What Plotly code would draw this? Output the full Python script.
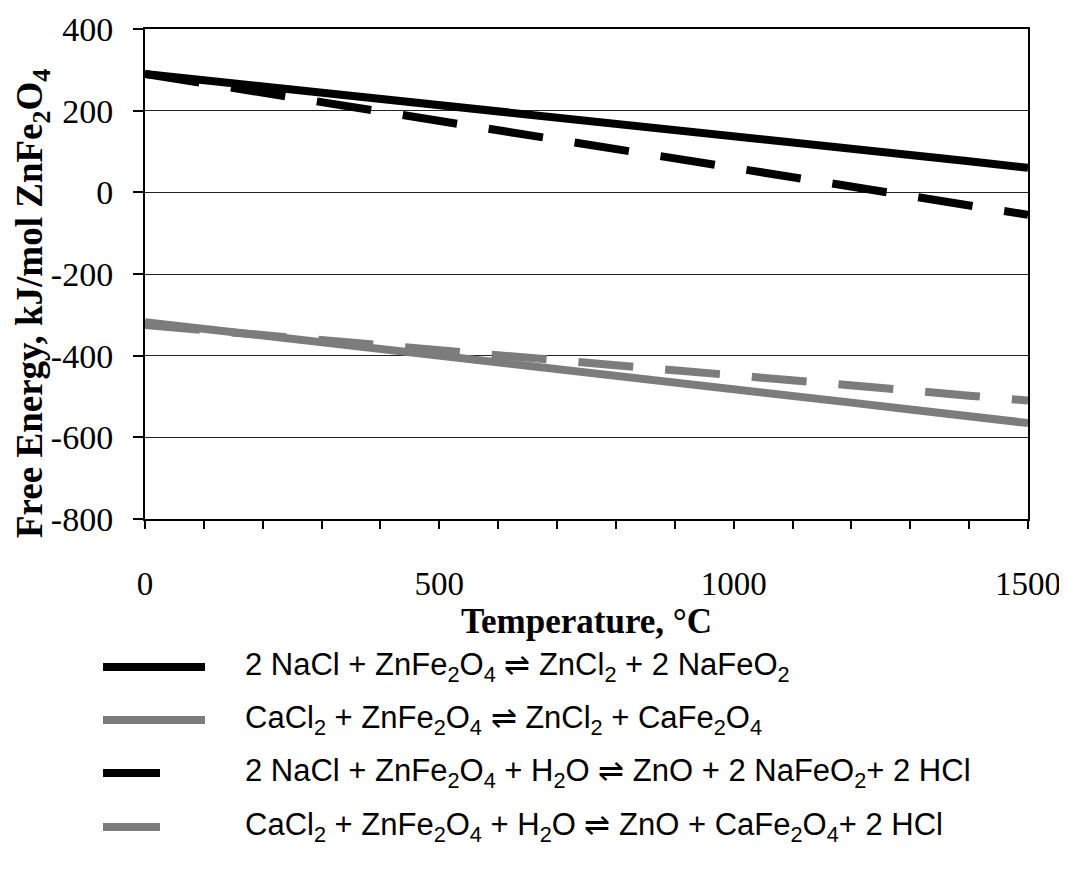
import plotly.graph_objects as go

temperature = [0, 100, 200, 300, 400, 500, 600, 700, 800, 900, 1000, 1100, 1200, 1300, 1400, 1500]
nacl_dry = [290, 275, 259, 244, 229, 213, 198, 183, 167, 152, 137, 122, 106, 91, 76, 60]
cacl2_dry = [-318, -334, -351, -367, -383, -400, -416, -433, -449, -466, -482, -499, -515, -532, -548, -565]
nacl_wet = [290, 267, 244, 221, 198, 175, 152, 129, 106, 83, 60, 37, 14, -9, -32, -55]
cacl2_wet = [-325, -337, -350, -362, -374, -387, -399, -411, -424, -436, -448, -461, -473, -485, -498, -510]

y_tickvals = [400, 200, 0, -200, -400, -600, -800]
y_ticktext = ["400", "200", "0", "-200", "-400", "-600", "-800"]
x_tickvals = [0, 500, 1000, 1500]

x_title = "<b>Temperature, °C</b>"
y_title = "<b>Free Energy, kJ/mol ZnFe<sub>2</sub>O<sub>4</sub></b>"

labels = [
    "2 NaCl + ZnFe<sub>2</sub>O<sub>4</sub> ⇌ ZnCl<sub>2</sub> + 2 NaFeO<sub>2</sub>",
    "CaCl<sub>2</sub> + ZnFe<sub>2</sub>O<sub>4</sub> ⇌ ZnCl<sub>2</sub> + CaFe<sub>2</sub>O<sub>4</sub>",
    "2 NaCl + ZnFe<sub>2</sub>O<sub>4</sub> + H<sub>2</sub>O ⇌ ZnO + 2 NaFeO<sub>2</sub>+ 2 HCl",
    "CaCl<sub>2</sub> + ZnFe<sub>2</sub>O<sub>4</sub> + H<sub>2</sub>O ⇌ ZnO + CaFe<sub>2</sub>O<sub>4</sub>+ 2 HCl",
]

BLACK = "#000000"
GRAY = "#7c7c7c"
DASH = "55px,32px"

series = [
    (nacl_dry, BLACK, "solid"),
    (cacl2_dry, GRAY, "solid"),
    (nacl_wet, BLACK, DASH),
    (cacl2_wet, GRAY, DASH),
]

fig = go.Figure()
for (vals, col, dash), lab in zip(series, labels):
    fig.add_trace(go.Scatter(x=temperature, y=vals, mode="lines", name=lab,
                             line=dict(color=col, width=8, dash=dash),
                             showlegend=False))

# page offset of the plot div (body margin)
OFF = 8
# plot area in page pixels
PL, PR, PT, PB = 145, 1028, 29, 519
W, H = 1059, 865
margin = dict(l=PL - OFF, r=W - (PR - OFF), t=PT - OFF, b=H - (PB - OFF))


def px_x(px):
    return (px - PL) / (PR - PL)


def px_y(py):
    return (PB - py) / (PB - PT)


rows_y = [667, 720, 773, 827]
sample_end = [205, 205, 160, 160]
for (vals, col, dash), lab, ry, xe in zip(series, labels, rows_y, sample_end):
    fig.add_shape(type="line", xref="paper", yref="paper",
                  x0=px_x(103), x1=px_x(xe), y0=px_y(ry), y1=px_y(ry),
                  line=dict(color=col, width=8))
    fig.add_annotation(xref="paper", yref="paper", x=px_x(243), y=px_y(ry),
                       xanchor="left", yanchor="middle", showarrow=False,
                       text=lab,
                       font=dict(family="Liberation Sans, Arial, sans-serif",
                                 size=31, color="black"))

SERIF = "Liberation Serif, Times New Roman, serif"

# y-axis title (placed as in the reference, slightly below the axis centre)
fig.add_annotation(xref="paper", yref="paper", x=px_x(32), y=px_y(304),
                   xanchor="center", yanchor="middle", showarrow=False,
                   textangle=-90, text=y_title,
                   font=dict(family=SERIF, size=37, color="black"))

fig.update_layout(
    width=W, height=H,
    margin=margin,
    paper_bgcolor="white", plot_bgcolor="white",
    font=dict(family=SERIF, color="black"),
    xaxis=dict(
        range=[0, 1500], tickvals=x_tickvals,
        automargin=False,
        ticks="outside", ticklen=8, tickwidth=1.5, tickcolor="black",
        minor=dict(dtick=100, ticks="outside", ticklen=8, tickwidth=1.5, tickcolor="black", showgrid=False),
        showgrid=False, zeroline=False,
        showline=True, linecolor="black", linewidth=2, mirror=True,
        tickfont=dict(size=33, family=SERIF),
        ticklabelstandoff=26,
        title=dict(text=x_title, standoff=5,
                   font=dict(size=35, family=SERIF)),
    ),
    yaxis=dict(
        range=[-800, 400], tickvals=y_tickvals, ticktext=y_ticktext,
        automargin=False,
        ticks="outside", ticklen=10, tickwidth=1.5, tickcolor="black",
        showgrid=True, gridcolor="#222222", gridwidth=1.2,
        zeroline=False,
        showline=True, linecolor="black", linewidth=2, mirror=True,
        tickfont=dict(size=34, family=SERIF),
        ticklabelstandoff=13,
    ),
)

fig.write_html("out.html")
